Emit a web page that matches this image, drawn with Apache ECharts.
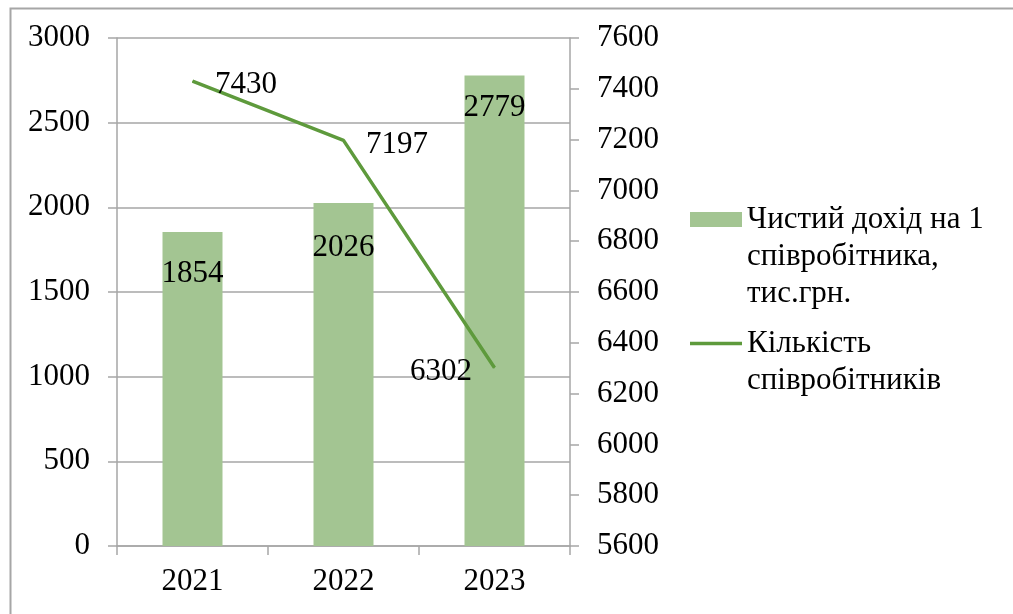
<!DOCTYPE html>
<html>
<head>
<meta charset="utf-8">
<script src="https://cdn.jsdelivr.net/npm/echarts@6/dist/echarts.min.js"></script>
<style>
html,body{margin:0;padding:0;background:#fff;}
#c{width:1013px;height:614px;}
</style>
</head>
<body>
<div id="c"></div>
<script>
const categories = ['2021', '2022', '2023'];
const incomePerEmployee = [1854, 2026, 2779];
const employees = [7430, 7197, 6302];
const seriesNames = ['Чистий дохід на 1\nспівробітника,\nтис.грн.', 'Кількість\nспівробітників'];

const FONT = '"Liberation Serif", "Times New Roman", serif';
const FS = 31;
const GRAY = '#A6A6A6';
const BAR = '#A3C592';
const LINE = '#5E9A3C';

const barLabelDist = [26, 29, 17];
const lineLabelPos = ['right', 'right', 'left'];

const chart = echarts.init(document.getElementById('c'), null, {renderer: 'canvas'});

const barData = incomePerEmployee.map((v, i) => ({
  value: v,
  label: {distance: barLabelDist[i]}
}));
const lineData = employees.map((v, i) => ({
  value: v,
  label: {position: lineLabelPos[i]}
}));

const axisTextStyle = {color: '#000', fontSize: FS, fontFamily: FONT, formatter: v => String(v)};

chart.setOption({
  animation: false,
  backgroundColor: '#fff',
  graphic: [{
    type: 'rect',
    left: 8, top: 6,
    shape: {width: 1200, height: 800},
    style: {fill: 'none', stroke: GRAY, lineWidth: 2},
    silent: true,
    z: -10
  }],
  grid: {left: 117, right: 443, top: 38, bottom: 68, containLabel: false},
  legend: [{
    orient: 'vertical',
    left: 690, top: 127,
    padding: 0,
    itemWidth: 52, itemHeight: 15,
    itemGap: 0,
    data: [{name: seriesNames[0], icon: 'rect'}],
    formatter: n => '\n\n' + n,
    textStyle: {color: '#000', fontSize: FS, fontFamily: FONT, lineHeight: 37}
  }, {
    orient: 'vertical',
    left: 690, top: 288,
    padding: 0,
    itemWidth: 52, itemHeight: 3.5,
    itemGap: 0,
    data: [{name: seriesNames[1], icon: 'rect'}],
    formatter: n => '\n' + n,
    textStyle: {color: '#000', fontSize: FS, fontFamily: FONT, lineHeight: 37}
  }],
  xAxis: {
    type: 'category',
    data: categories,
    boundaryGap: true,
    axisLine: {show: true, lineStyle: {color: GRAY, width: 1.5}},
    axisTick: {show: true, length: 9, alignWithLabel: false, lineStyle: {color: GRAY, width: 1.5}},
    axisLabel: {margin: 20, color: '#000', fontSize: FS, fontFamily: FONT},
    splitLine: {show: false}
  },
  yAxis: [{
    type: 'value',
    min: 0, max: 3000, interval: 500,
    position: 'left',
    axisLine: {show: true, lineStyle: {color: GRAY, width: 1.5}},
    axisTick: {show: true, length: 9, lineStyle: {color: GRAY, width: 1.5}},
    axisLabel: Object.assign({margin: 27}, axisTextStyle),
    splitLine: {show: true, lineStyle: {color: GRAY, width: 1.5}}
  }, {
    type: 'value',
    min: 5600, max: 7600, interval: 200,
    position: 'right',
    axisLine: {show: true, lineStyle: {color: GRAY, width: 1.5}},
    axisTick: {show: true, length: 9, lineStyle: {color: GRAY, width: 1.5}},
    axisLabel: Object.assign({margin: 27}, axisTextStyle),
    splitLine: {show: false}
  }],
  series: [{
    name: seriesNames[0],
    type: 'bar',
    yAxisIndex: 0,
    barWidth: 60,
    data: barData,
    itemStyle: {color: BAR},
    label: {
      show: true,
      position: 'insideTop',
      color: '#000', fontSize: FS, fontFamily: FONT
    }
  }, {
    name: seriesNames[1],
    type: 'line',
    yAxisIndex: 1,
    data: lineData,
    symbol: 'circle',
    symbolSize: 1,
    showSymbol: true,
    lineStyle: {color: LINE, width: 3.5},
    itemStyle: {color: LINE},
    label: {
      show: true,
      distance: 22,
      offset: [0, 4],
      color: '#000', fontSize: FS, fontFamily: FONT
    },
    z: 3
  }]
});
</script>
</body>
</html>
